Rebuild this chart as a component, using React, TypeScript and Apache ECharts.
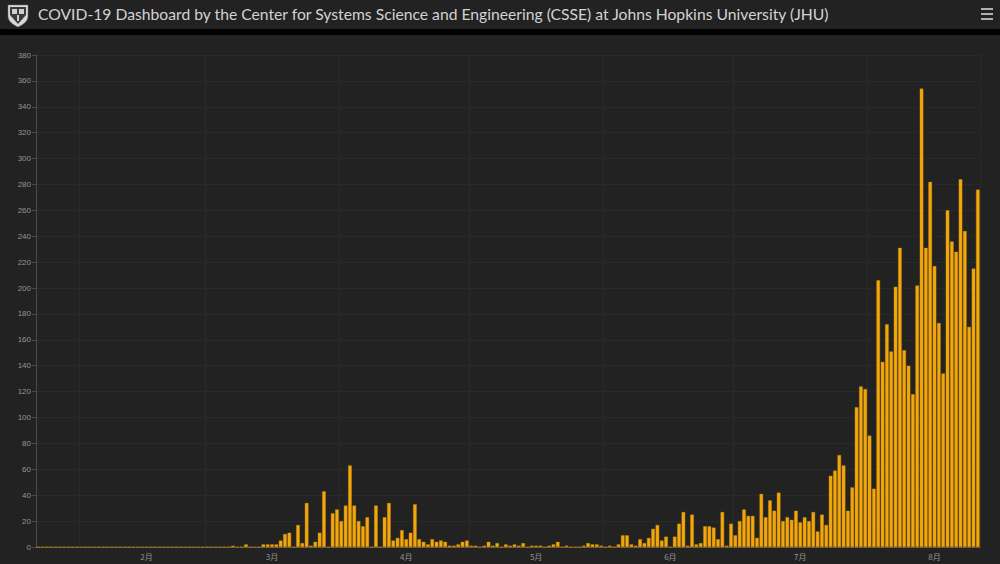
import React, { useEffect, useRef } from "react";
import * as echarts from "echarts";

// Daily values, one array per month (first date: 2020-01-22)
const startDate = "2020-01-22";
const janValues = [0, 0, 0, 0, 0, 0, 0, 0, 0, 0];
const febValues = [
  0, 0, 0, 0, 0, 0, 0, 0, 0, 0, 0, 0, 0, 0, 0, 0, 0, 0, 0, 0, 0, 0, 0, 0, 0, 0, 0, 0, 0,
];
const marValues = [
  0, 0, 0, 0, 0, 0, 1, 0, 0, 2, 0, 0, 0, 2, 2, 2, 2, 5, 10, 11, 0, 17, 3, 34, 1, 4, 11, 43, 0, 26, 29,
];
const aprValues = [
  20, 32, 63, 32, 20, 16, 23, 0, 32, 0, 23, 34, 5, 7, 13, 6, 11, 33, 6, 4, 2, 6, 4, 5, 4, 1, 1, 2, 4, 5,
];
const mayValues = [
  1, 1, 0, 1, 4, 1, 3, 0, 2, 1, 2, 1, 3, 0, 1, 1, 1, 0, 1, 2, 4, 0, 1, 0, 0, 0, 1, 3, 2, 2, 1,
];
const junValues = [
  0, 1, 0, 2, 9, 9, 2, 1, 6, 3, 7, 14, 17, 5, 8, 0, 8, 18, 27, 1, 25, 2, 3, 16, 16, 15, 6, 27, 1, 18,
];
const julValues = [
  9, 20, 29, 24, 24, 7, 41, 23, 36, 28, 42, 20, 23, 21, 28, 19, 23, 20, 27, 12, 25, 17, 55, 59, 71, 63, 28, 46, 108, 124, 122,
];
const augValues = [
  86, 45, 206, 143, 172, 151, 201, 231, 152, 140, 118, 202, 354, 231, 282, 217, 173, 134, 260, 236, 228, 284, 244, 170, 215, 276,
];

const yTicks = { min: 0, max: 380, interval: 20 };
const titleText =
  "COVID-19 Dashboard by the Center for Systems Science and Engineering (CSSE) at Johns Hopkins University (JHU)";
const monthSuffix = "月";

const allValues = [
  ...janValues,
  ...febValues,
  ...marValues,
  ...aprValues,
  ...mayValues,
  ...junValues,
  ...julValues,
  ...augValues,
];

function buildDates(start: string, count: number): string[] {
  const [y, m, d] = start.split("-").map(Number);
  const t0 = Date.UTC(y, m - 1, d);
  const out: string[] = [];
  for (let i = 0; i < count; i++) {
    const dt = new Date(t0 + i * 86400000);
    const mm = String(dt.getUTCMonth() + 1).padStart(2, "0");
    const dd = String(dt.getUTCDate()).padStart(2, "0");
    out.push(`${dt.getUTCFullYear()}-${mm}-${dd}`);
  }
  return out;
}

const categories = buildDates(startDate, allValues.length);

const shieldPath = "M0,0 L20,0 L20,11 C20,17 14,20 10,22 C6,20 0,17 0,11 Z";
echarts.graphic.registerShape("shield", echarts.graphic.extendPath(shieldPath, {}));

export default function App() {
  const ref = useRef<HTMLDivElement>(null);

  useEffect(() => {
    document.body.style.margin = "0";
    document.body.style.background = "#222222";
    if (!ref.current) return;
    const chart = echarts.init(ref.current, undefined, { renderer: "svg" });
    chart.setOption({
      animation: false,
      backgroundColor: "#222222",
      grid: { left: 36, right: 20, top: 55, bottom: 17, containLabel: false },
      graphic: [
        { type: "rect", shape: { x: 0, y: 29, width: 1000, height: 6 }, style: { fill: "#000000" }, z: 10 },
        {
          type: "shield",
          x: 8,
          y: 5,
          scaleX: 1,
          scaleY: 1,
          style: { fill: "#d8d8d8", stroke: "#777", lineWidth: 0.5 },
          z: 10,
        },
        {
          type: "polygon",
          shape: { points: [[10, 7], [26, 7], [26, 15], [18, 24], [10, 15]] },
          style: { fill: "#3a3a3a" },
          z: 11,
        },
        { type: "rect", shape: { x: 12, y: 9, width: 5, height: 5 }, style: { fill: "#cfcfcf" }, z: 12 },
        { type: "rect", shape: { x: 19, y: 9, width: 5, height: 5 }, style: { fill: "#cfcfcf" }, z: 12 },
        { type: "rect", shape: { x: 17, y: 15, width: 2, height: 6 }, style: { fill: "#cfcfcf" }, z: 12 },
        {
          type: "text",
          x: 38,
          y: 6,
          style: {
            text: titleText,
            fill: "#d2d2d2",
            font: "15.7px Lato, 'Noto Sans', sans-serif",
          },
          z: 10,
        },
        { type: "rect", shape: { x: 981, y: 8, width: 12, height: 2 }, style: { fill: "#b0b0b0" }, z: 10 },
        { type: "rect", shape: { x: 981, y: 13, width: 12, height: 2 }, style: { fill: "#b0b0b0" }, z: 10 },
        { type: "rect", shape: { x: 981, y: 18, width: 12, height: 2 }, style: { fill: "#b0b0b0" }, z: 10 },
      ],
      xAxis: {
        type: "category",
        data: categories,
        boundaryGap: true,
        axisLine: { show: true, lineStyle: { color: "#6a5a3c", width: 1 } },
        axisTick: { show: false },
        axisLabel: {
          interval: (_i: number, v: string) => v.endsWith("-16"),
          formatter: (v: string) => `${parseInt(v.slice(5, 7), 10)}${monthSuffix}`,
          color: "#959595",
          fontSize: 8,
          fontFamily: "'Noto Sans CJK JP', sans-serif",
          margin: 5,
        },
        splitLine: {
          show: true,
          interval: (_i: number, v: string) => v.endsWith("-01"),
          lineStyle: { color: "#2a2a2a", width: 1 },
        },
      },
      yAxis: {
        type: "value",
        min: yTicks.min,
        max: yTicks.max,
        interval: yTicks.interval,
        axisLine: { show: true, lineStyle: { color: "#4a4a4a" } },
        axisTick: { show: true, length: 4, lineStyle: { color: "#4a4a4a" } },
        axisLabel: {
          color: "#959595",
          fontSize: 8,
          fontFamily: "'Liberation Sans', Arial, sans-serif",
          margin: 5,
        },
        splitLine: { show: true, lineStyle: { color: "#292929", width: 1 } },
      },
      series: [
        {
          type: "bar",
          data: allValues,
          barCategoryGap: "18%",
          itemStyle: { color: "#f3a70c", borderColor: "#c98a0a", borderWidth: 0.4 },
        },
      ],
    });
    return () => chart.dispose();
  }, []);

  return (
    <div
      ref={ref}
      style={{ position: "absolute", left: 0, top: 0, width: 1000, height: 564 }}
    />
  );
}
